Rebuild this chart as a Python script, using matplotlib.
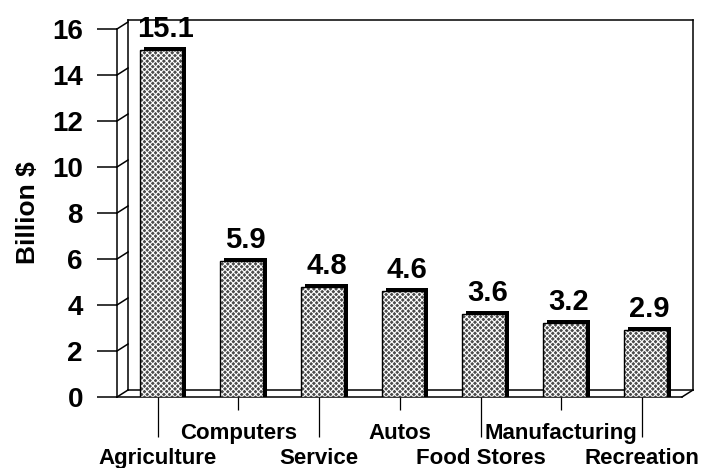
import numpy as np
import matplotlib
matplotlib.use("Agg")
from matplotlib import pyplot as plt

# datos
categorias = ["Agriculture", "Computers", "Service", "Autos",
              "Food Stores", "Manufacturing", "Recreation"]
valores = [15.1, 5.9, 4.8, 4.6, 3.6, 3.2, 2.9]
ticks_y = [0, 2, 4, 6, 8, 10, 12, 14, 16]

plt.rcParams["font.family"] = ["Liberation Sans", "DejaVu Sans"]
plt.rcParams["font.weight"] = "bold"
plt.rcParams["hatch.linewidth"] = 0.8

fig = plt.figure(figsize=(7.15, 4.68), dpi=100)
ax = fig.add_axes([117 / 715, 71 / 468, 565 / 715, 368 / 468])

x = np.arange(len(valores))
xl, xr = -0.545, 6.456
ax.set_xlim(xl, xr)
ax.set_ylim(0, 16)

# profundidad de la caja 3D (en unidades de datos)
px_x = (xr - xl) / 565
px_y = 16 / 368
dx, dy = 11 * px_x, 7 * px_y
top = 16 + 2 * px_y

k = dict(color="black", lw=1.1, clip_on=False, zorder=1)
ax.plot([xl + dx, xl + dx], [dy, top + dy], **k)
ax.plot([xl + dx, xr + dx], [top + dy, top + dy], **k)
ax.plot([xr + dx, xr + dx], [dy, top + dy], **k)
ax.plot([xl + dx, xr + dx], [dy, dy], **k)
ax.plot([xr, xr + dx], [0, dy], **k)
for t in ticks_y:
    ax.plot([xl, xl + dx], [t, t + dy], **k)

# barras: sombra + cara frontal
w = 0.53
ax.bar(x + 4 * px_x, np.array(valores) + 3 * px_y, w, color="black", zorder=2)
ax.bar(x, valores, w, color="#4c4c4c", edgecolor="white", hatch="xxxxxx",
       linewidth=0, zorder=3)
ax.bar(x, valores, w, fill=False, edgecolor="black", linewidth=1.0, zorder=4)

for xi, v in zip(x, valores):
    ax.annotate(f"{v}", (xi, v), xytext=(3, 5), textcoords="offset points",
                ha="center", va="bottom", fontsize=21, fontweight="bold",
                annotation_clip=False)

# ejes
for s in ["top", "right"]:
    ax.spines[s].set_visible(False)
ax.spines["left"].set_linewidth(1.1)
ax.spines["bottom"].set_linewidth(1.1)

ax.set_yticks(ticks_y)
ax.set_yticklabels([str(t) for t in ticks_y], fontsize=20, fontweight="bold")
ax.tick_params(axis="y", length=14.5, width=1.1, pad=10)

ax.set_xticks(x[0::2] - 0.04, labels=categorias[0::2])
ax.set_xticks(x[1::2] - 0.04, labels=categorias[1::2], minor=True)
ax.tick_params(axis="x", which="major", length=29, width=0.9, pad=8,
               labelsize=16)
ax.tick_params(axis="x", which="minor", length=9.5, width=0.9, pad=9,
               labelsize=16)
for lbl in ax.get_xticklabels(which="both"):
    lbl.set_fontweight("bold")

ax.set_ylabel("Billion $", fontsize=19, fontweight="bold", labelpad=9)

fig.savefig("out.png", dpi=100)
